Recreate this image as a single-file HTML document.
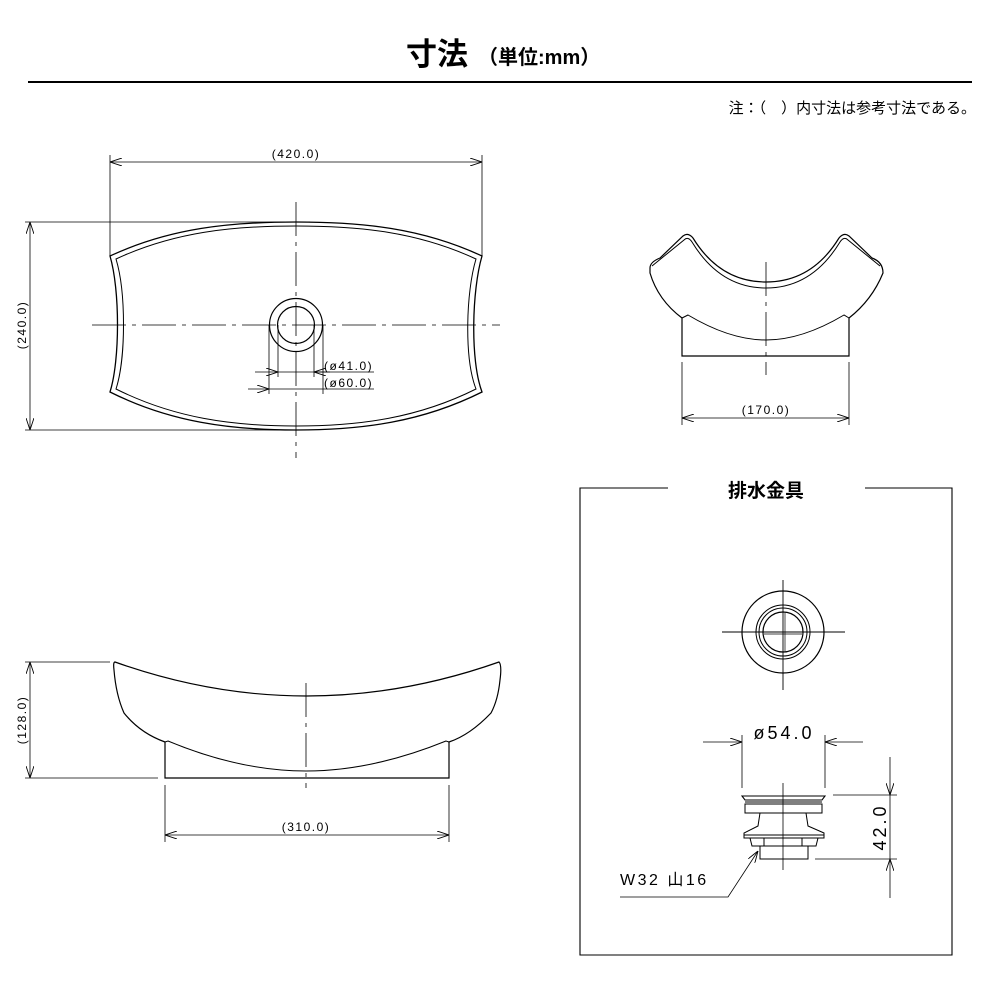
<!DOCTYPE html>
<html><head><meta charset="utf-8"><style>
html,body{margin:0;padding:0;background:#fff;}
svg{display:block;}
text{font-family:"Liberation Sans","Noto Sans CJK JP",sans-serif;fill:#000;}
.d{font-family:"Liberation Sans","Noto Sans CJK JP",sans-serif;font-size:12px;letter-spacing:1.5px;}
</style></head><body>
<svg width="1000" height="1000" viewBox="0 0 1000 1000" xmlns="http://www.w3.org/2000/svg">
<defs>
<marker id="a" viewBox="0 0 12 8" refX="12" refY="4" markerWidth="12" markerHeight="8" orient="auto-start-reverse" markerUnits="userSpaceOnUse">
<path d="M0,0 L12,4 L0,8" fill="none" stroke="#000" stroke-width="0.9"/></marker>
</defs>
<!-- header -->
<text x="406" y="65" font-size="31" font-weight="bold">寸法</text>
<text x="478" y="64" font-size="20" font-weight="bold">（単位:mm）</text>
<line x1="28" y1="82" x2="972" y2="82" stroke="#000" stroke-width="2"/>
<text x="976" y="113" font-size="15" text-anchor="end">注：（　）内寸法は参考寸法である。</text>

<g fill="none" stroke="#000" stroke-width="1">
<!-- plan view -->
<path d="M110,256 C170,228 230,222 296,222 C362,222 422,228 482,256 C472,290 470,360 482,392 C422,422 362,430 296,430 C230,430 170,422 110,392 C120,360 120,290 110,256 Z" stroke-width="1.3"/>
<path d="M116,259 C174,232 232,226 296,226 C360,226 418,232 476,259 C466,292 464,358 476,389 C418,418 360,426 296,426 C232,426 174,418 116,389 C126,358 126,292 116,259 Z"/>
<circle cx="296" cy="325" r="26.5" stroke-width="1.2"/>
<circle cx="296" cy="325" r="18.5" stroke-width="1.2"/>
<line x1="296" y1="202" x2="296" y2="458" stroke-dasharray="34,6,4,6" stroke-width="0.8"/>
<line x1="92" y1="325" x2="500" y2="325" stroke-dasharray="34,6,4,6" stroke-width="0.8"/>
<!-- 420 -->
<line x1="110" y1="155" x2="110" y2="256" stroke-width="0.8"/>
<line x1="482" y1="155" x2="482" y2="256" stroke-width="0.8"/>
<line x1="110" y1="162" x2="482" y2="162" stroke-width="0.8" marker-start="url(#a)" marker-end="url(#a)"/>
<!-- 240 -->
<line x1="25" y1="222" x2="310" y2="222" stroke-width="0.8"/>
<line x1="25" y1="430" x2="300" y2="430" stroke-width="0.8"/>
<line x1="30" y1="222" x2="30" y2="430" stroke-width="0.8" marker-start="url(#a)" marker-end="url(#a)"/>
<!-- hole dims -->
<line x1="278" y1="325" x2="278" y2="377" stroke-width="0.8"/>
<line x1="314" y1="325" x2="314" y2="377" stroke-width="0.8"/>
<line x1="269" y1="325" x2="269" y2="394" stroke-width="0.8"/>
<line x1="323" y1="325" x2="323" y2="394" stroke-width="0.8"/>
<line x1="255" y1="372" x2="278" y2="372" stroke-width="0.8" marker-end="url(#a)"/>
<line x1="278" y1="372" x2="374" y2="372" stroke-width="0.8"/>
<line x1="330" y1="372" x2="314" y2="372" stroke-width="0.8" marker-end="url(#a)"/>
<line x1="248" y1="389" x2="269" y2="389" stroke-width="0.8" marker-end="url(#a)"/>
<line x1="269" y1="389" x2="374" y2="389" stroke-width="0.8"/>

<!-- end view -->
<path d="M650,268 Q650,262 660,258 L683,236 Q688,232 693,238 Q720,282 766,282 Q812,282 839,238 Q844,232 849,236 L872,258 Q883,262 883,273 Q872,300 849,318 L849,356 L682,356 L682,318 Q658,300 650,273 Z" stroke-width="1.2"/>
<path d="M652,266 L684,240 Q688,236 692,242 Q720,288 766,288 Q812,288 840,242 Q844,236 848,240 L880,266"/>
<path d="M682,318 L688,315 Q730,340 766,340 Q802,340 844,315 L849,318"/>
<line x1="766" y1="262" x2="766" y2="375" stroke-dasharray="34,6,4,6" stroke-width="0.8"/>
<line x1="682" y1="362" x2="682" y2="425" stroke-width="0.8"/>
<line x1="849" y1="362" x2="849" y2="425" stroke-width="0.8"/>
<line x1="682" y1="418" x2="849" y2="418" stroke-width="0.8" marker-start="url(#a)" marker-end="url(#a)"/>

<!-- side view -->
<path d="M115,662 Q306,730 499,662 Q502,665 500,680 Q498,700 491,713 Q470,735 449,742 L449,778 L165,778 L165,742 Q140,733 124,713 Q116,695 114,670 Q113,662 115,662 Z" stroke-width="1.2"/>
<path d="M165,742 L168,741 Q240,771 306,771 Q372,771 446,741 L449,742"/>
<line x1="306" y1="683" x2="306" y2="788" stroke-dasharray="34,6,4,6" stroke-width="0.8"/>
<line x1="25" y1="662" x2="110" y2="662" stroke-width="0.8"/>
<line x1="25" y1="778" x2="158" y2="778" stroke-width="0.8"/>
<line x1="30" y1="662" x2="30" y2="778" stroke-width="0.8" marker-start="url(#a)" marker-end="url(#a)"/>
<line x1="165" y1="785" x2="165" y2="842" stroke-width="0.8"/>
<line x1="449" y1="785" x2="449" y2="842" stroke-width="0.8"/>
<line x1="165" y1="835" x2="449" y2="835" stroke-width="0.8" marker-start="url(#a)" marker-end="url(#a)"/>

<!-- drain box -->
<path d="M668,488 L580,488 L580,955 L952,955 L952,488 L865,488" stroke-width="1.1"/>
<circle cx="783" cy="632" r="41" stroke-width="1.2"/>
<circle cx="783" cy="632" r="27"/>
<circle cx="783" cy="632" r="24"/>
<circle cx="783" cy="632" r="20" stroke-width="1.2"/>
<line x1="722" y1="632" x2="845" y2="632" stroke-width="0.9"/>
<line x1="783" y1="580" x2="783" y2="690" stroke-width="0.9"/>
<line x1="764" y1="634" x2="802" y2="634" stroke-width="0.7"/>
<line x1="785" y1="613" x2="785" y2="651" stroke-width="0.7"/>
<!-- drain side -->
<line x1="742" y1="735" x2="742" y2="788" stroke-width="0.8"/>
<line x1="825" y1="735" x2="825" y2="788" stroke-width="0.8"/>
<line x1="703" y1="742" x2="742" y2="742" stroke-width="0.8" marker-end="url(#a)"/>
<line x1="863" y1="742" x2="825" y2="742" stroke-width="0.8" marker-end="url(#a)"/>
<path d="M742,796 L825,796 L822,800 L745,800 Z" stroke-width="1.1"/>
<line x1="745" y1="802" x2="822" y2="802"/>
<rect x="745" y="804" width="77" height="9"/>
<path d="M760,813 L758,826 L744,833 L744,838 L824,838 L824,833 L808,826 L806,813"/>
<line x1="744" y1="835" x2="824" y2="835"/>
<path d="M750,838 L752,846 L816,846 L818,838"/>
<line x1="764" y1="838" x2="764" y2="846"/><line x1="802" y1="838" x2="802" y2="846"/>
<rect x="760" y="846" width="48" height="13"/>
<line x1="783" y1="783" x2="783" y2="870" stroke-width="0.8"/>
<line x1="833" y1="795" x2="897" y2="795" stroke-width="0.8"/>
<line x1="815" y1="859" x2="897" y2="859" stroke-width="0.8"/>
<line x1="890" y1="757" x2="890" y2="795" stroke-width="0.8" marker-end="url(#a)"/>
<line x1="890" y1="795" x2="890" y2="859" stroke-width="0.8"/>
<line x1="890" y1="898" x2="890" y2="859" stroke-width="0.8" marker-end="url(#a)"/>
<polyline points="620,897 728,897 758,851" stroke-width="0.8" marker-end="url(#a)"/>
</g>

<!-- dimension text -->
<text class="d" x="296" y="158" text-anchor="middle">(420.0)</text>
<text class="d" transform="translate(26,325) rotate(-90)" text-anchor="middle">(240.0)</text>
<text class="d" x="324" y="370" font-size="11">(ø41.0)</text>
<text class="d" x="324" y="387" font-size="11">(ø60.0)</text>
<text class="d" x="766" y="414" text-anchor="middle">(170.0)</text>
<text class="d" transform="translate(26,720) rotate(-90)" text-anchor="middle">(128.0)</text>
<text class="d" x="306" y="831" text-anchor="middle">(310.0)</text>
<text x="766" y="497" font-size="19" font-weight="bold" text-anchor="middle">排水金具</text>
<text x="784" y="739" font-size="18" text-anchor="middle" letter-spacing="3">ø54.0</text>
<text transform="translate(886,827) rotate(-90)" font-size="18" text-anchor="middle" letter-spacing="3">42.0</text>
<text x="620" y="885" font-size="16" letter-spacing="2.5">W32 山16</text>
</svg>
</body></html>
